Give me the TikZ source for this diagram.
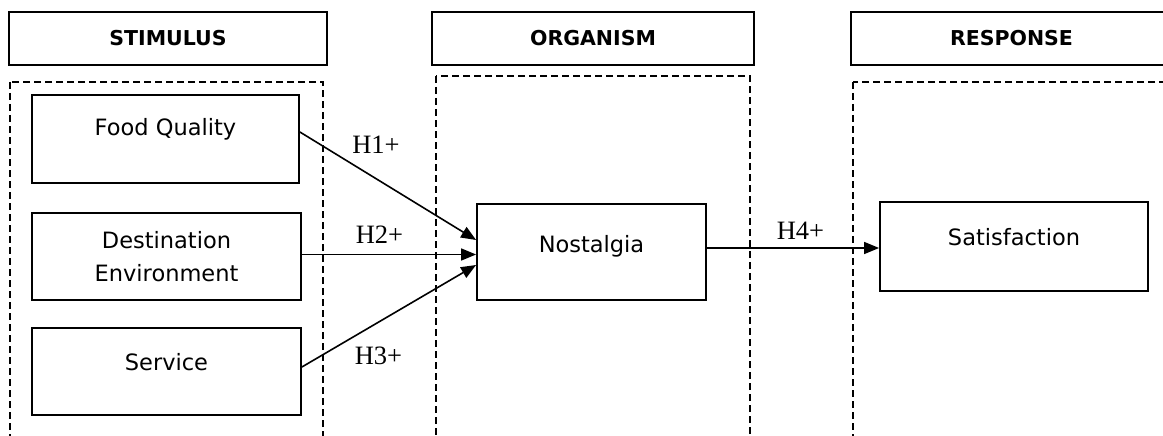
\documentclass[tikz,border=0pt]{standalone}
\usepackage{fontspec}
\setmainfont{DejaVu Sans}
\newfontfamily\hypfont{Liberation Serif}
\usetikzlibrary{arrows.meta}

\begin{document}
\begin{tikzpicture}[x=1pt, y=-1pt,
  head/.style = {draw, line width=1.8pt, minimum width=#1, minimum height=53pt,
    inner sep=0pt, font=\fontsize{20.5}{24}\selectfont\bfseries},
  box/.style = {draw, line width=1.8pt, inner sep=0pt, minimum width=#1,
    align=center, font=\fontsize{22.5}{33}\selectfont},
  zone/.style = {draw, dashed, line width=1.4pt, dash pattern=on 7pt off 4pt},
  link/.style = {draw, line width=1.6pt, -{Triangle[length=15pt,width=12pt]}},
  hyp/.style = {anchor=base, font=\hypfont\fontsize{26.5}{30}\selectfont}]
  \useasboundingbox (0,0) rectangle (1163,436);
  \clip (0,0) rectangle (1163,436);

  % the three stages
  \node[head=318pt] (stim) at (168,38.3) {STIMULUS};
  \node[head=322pt] (org)  at (593,38.3) {ORGANISM};
  \node[head=321pt] (resp) at (1011.5,38.3) {RESPONSE};

  \draw[zone] (10,82) rectangle (323,450);
  \draw[zone] (436,76) rectangle (750,450);
  \draw[zone] (853,82) rectangle (1175,450);

  % constructs
  \node[box=267pt, text height=40.7pt, text depth=47.3pt] (food) at (165.5,139) {Food Quality};
  \node[box=269pt, minimum height=87pt] (dest) at (166.5,256.5) {Destination\\Environment};
  \node[box=269pt, text height=42pt, text depth=45pt] (serv) at (166.5,371.5) {Service};
  \node[box=229pt, text height=48pt, text depth=48pt] (nost) at (591.5,252) {Nostalgia};
  \node[box=268pt, text height=43.7pt, text depth=45.3pt] (sat) at (1014,246.5) {Satisfaction};

  % hypotheses
  \draw[link] ([yshift=7pt]food.east) -- ([yshift=12pt]nost.west);
  \draw[link] ([yshift=2pt]dest.east) -- ([yshift=2pt]dest.east -| nost.west);
  \draw[link] ([yshift=4.5pt]serv.east) -- ([yshift=-13pt]nost.west);
  \draw[link] ([yshift=4pt]nost.east) -- ([yshift=4pt]nost.east -| sat.west);

  \node[hyp] (h1) at (376,153.3) {H1+};
  \node[hyp] (h2) at (379.5,243) {H2+};
  \node[hyp] (h3) at (378.5,364) {H3+};
  \node[hyp] (h4) at (800.5,239.3) {H4+};
\end{tikzpicture}
\end{document}
